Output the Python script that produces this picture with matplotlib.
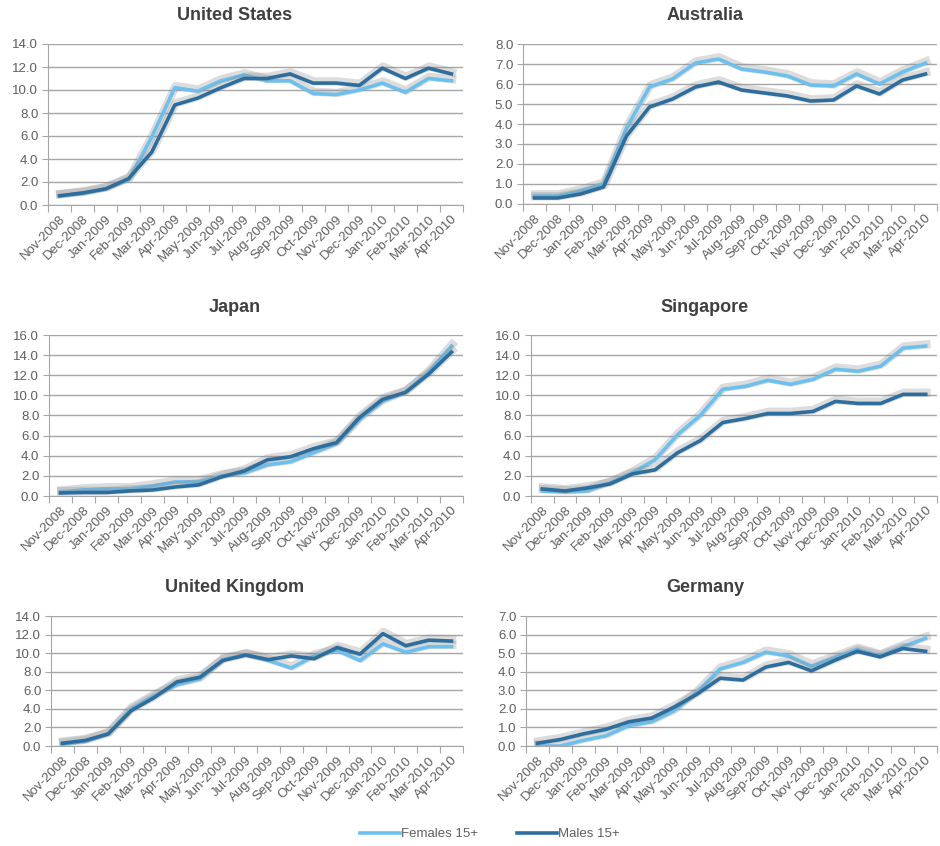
import matplotlib.pyplot as plt
import matplotlib.patheffects as pe
import numpy as np

plt.rcParams['font.family'] = ['Liberation Sans', 'DejaVu Sans']

months = ["Nov-2008", "Dec-2008", "Jan-2009", "Feb-2009", "Mar-2009", "Apr-2009",
          "May-2009", "Jun-2009", "Jul-2009", "Aug-2009", "Sep-2009", "Oct-2009",
          "Nov-2009", "Dec-2009", "Jan-2010", "Feb-2010", "Mar-2010", "Apr-2010"]

us_f = [0.8, 1.0, 1.4, 2.2, 5.9, 10.2, 9.9, 10.8, 11.3, 10.8, 10.8, 9.7, 9.6, 10.0, 10.6, 9.8, 11.0, 10.8]
us_m = [0.8, 1.05, 1.4, 2.3, 4.6, 8.7, 9.3, 10.2, 11.0, 11.0, 11.4, 10.6, 10.6, 10.4, 11.9, 11.0, 11.9, 11.4]

au_f = [0.4, 0.4, 0.65, 1.0, 3.8, 5.85, 6.25, 7.05, 7.25, 6.75, 6.6, 6.4, 5.95, 5.9, 6.5, 6.0, 6.6, 7.05]
au_m = [0.3, 0.3, 0.5, 0.85, 3.4, 4.85, 5.25, 5.85, 6.1, 5.7, 5.55, 5.4, 5.15, 5.2, 5.9, 5.5, 6.2, 6.5]

jp_f = [0.4, 0.6, 0.7, 0.7, 1.0, 1.4, 1.4, 2.0, 2.3, 3.1, 3.4, 4.3, 5.2, 7.6, 9.4, 10.3, 12.3, 14.9]
jp_m = [0.3, 0.35, 0.35, 0.5, 0.6, 0.9, 1.1, 1.9, 2.5, 3.6, 3.9, 4.7, 5.3, 7.8, 9.6, 10.3, 12.1, 14.3]

sg_f = [0.5, 0.4, 0.5, 1.3, 2.3, 3.6, 6.1, 8.0, 10.6, 10.9, 11.5, 11.1, 11.6, 12.6, 12.4, 12.9, 14.7, 14.9]
sg_m = [0.7, 0.5, 0.8, 1.2, 2.2, 2.6, 4.3, 5.5, 7.3, 7.7, 8.2, 8.2, 8.4, 9.4, 9.2, 9.2, 10.1, 10.1]

uk_f = [0.2, 0.5, 1.3, 4.0, 5.4, 6.6, 7.2, 9.3, 9.8, 9.2, 8.4, 9.7, 10.3, 9.2, 11.0, 10.1, 10.7, 10.7]
uk_m = [0.3, 0.6, 1.3, 3.8, 5.2, 6.9, 7.4, 9.2, 9.8, 9.3, 9.7, 9.4, 10.6, 9.9, 12.1, 10.8, 11.4, 11.3]

de_f = [0.0, 0.0, 0.3, 0.55, 1.1, 1.3, 1.9, 2.9, 4.15, 4.5, 5.05, 4.85, 4.3, 4.75, 5.2, 4.85, 5.35, 5.8]
de_m = [0.15, 0.35, 0.65, 0.9, 1.3, 1.5, 2.1, 2.8, 3.65, 3.55, 4.25, 4.5, 4.05, 4.6, 5.1, 4.8, 5.25, 5.1]

# title, females, males, ymax, ystep, axes box in pixels (x0, x1, y_top, y_bottom), title y, title x
panels = [
    ("United States", us_f, us_m, 14, 2, (48, 463, 44, 205), 16, 235),
    ("Australia", au_f, au_m, 8, 1, (523, 937, 44, 204), 16, 705),
    ("Japan", jp_f, jp_m, 16, 2, (49, 463, 335, 496), 307, 235),
    ("Singapore", sg_f, sg_m, 16, 2, (531, 937, 335, 496), 307, 705),
    ("United Kingdom", uk_f, uk_m, 14, 2, (51, 463, 616, 746), 588, 235),
    ("Germany", de_f, de_m, 7, 1, (526, 937, 616, 746), 588, 705),
]

W, H = 940, 846
fem_col = "#6DC0EE"
male_col = "#2E6E9E"
grid_col = "#A6A6A6"
text_col = "#5F5F5F"

fig = plt.figure(figsize=(W / 100, H / 100), dpi=100)
shadow = [pe.SimpleLineShadow(offset=(0.5, 1.2), shadow_color="#8C8C8C", alpha=0.3, linewidth=6),
          pe.Normal()]

x = np.arange(len(months))
for title, fem, male, ymax, ystep, (x0, x1, yt, yb), ty, tx in panels:
    ax = fig.add_axes([x0 / W, 1 - yb / H, (x1 - x0) / W, (yb - yt) / H])
    ax.plot(x, fem, color=fem_col, lw=2.6, path_effects=shadow, zorder=3)
    ax.plot(x, male, color=male_col, lw=2.6, path_effects=shadow, zorder=4)
    ax.set_xlim(-0.5, len(months) - 0.5)
    ax.set_ylim(0, ymax)
    yt_vals = np.arange(0, ymax + 0.01, ystep)
    ax.set_yticks(yt_vals)
    ax.set_yticklabels([f"{v:.1f}" for v in yt_vals], fontsize=9.5, color=text_col)
    ax.set_xticks(np.arange(-0.5, len(months)), minor=False)
    ax.set_xticklabels([])
    ax.set_xticks(x, minor=True)
    ax.set_xticklabels(months, minor=True, rotation=45, ha="right",
                       rotation_mode="anchor", fontsize=9.5, color=text_col)
    ax.tick_params(axis="x", which="major", length=5, color=grid_col, direction="out")
    ax.tick_params(axis="x", which="minor", length=0, pad=6)
    ax.tick_params(axis="y", length=4, color=grid_col, pad=3)
    ax.yaxis.grid(True, color=grid_col, lw=1)
    ax.set_axisbelow(True)
    for s in ["top", "right"]:
        ax.spines[s].set_visible(False)
    for s in ["left", "bottom"]:
        ax.spines[s].set_color(grid_col)
    fig.text(tx / W, 1 - ty / H, title, ha="center", va="center",
             fontsize=13, fontweight="bold", color="#404040")

handles = [plt.Line2D([], [], color=fem_col, lw=2.6),
           plt.Line2D([], [], color=male_col, lw=2.6)]
fig.legend(handles, ["Females 15+", "Males 15+"], loc="center", ncol=2,
           bbox_to_anchor=(490 / W, 1 - 834 / H), frameon=False, fontsize=9.5,
           handlelength=3, columnspacing=3, handletextpad=0.1, labelcolor=text_col)

fig.savefig("out.png", dpi=100)
